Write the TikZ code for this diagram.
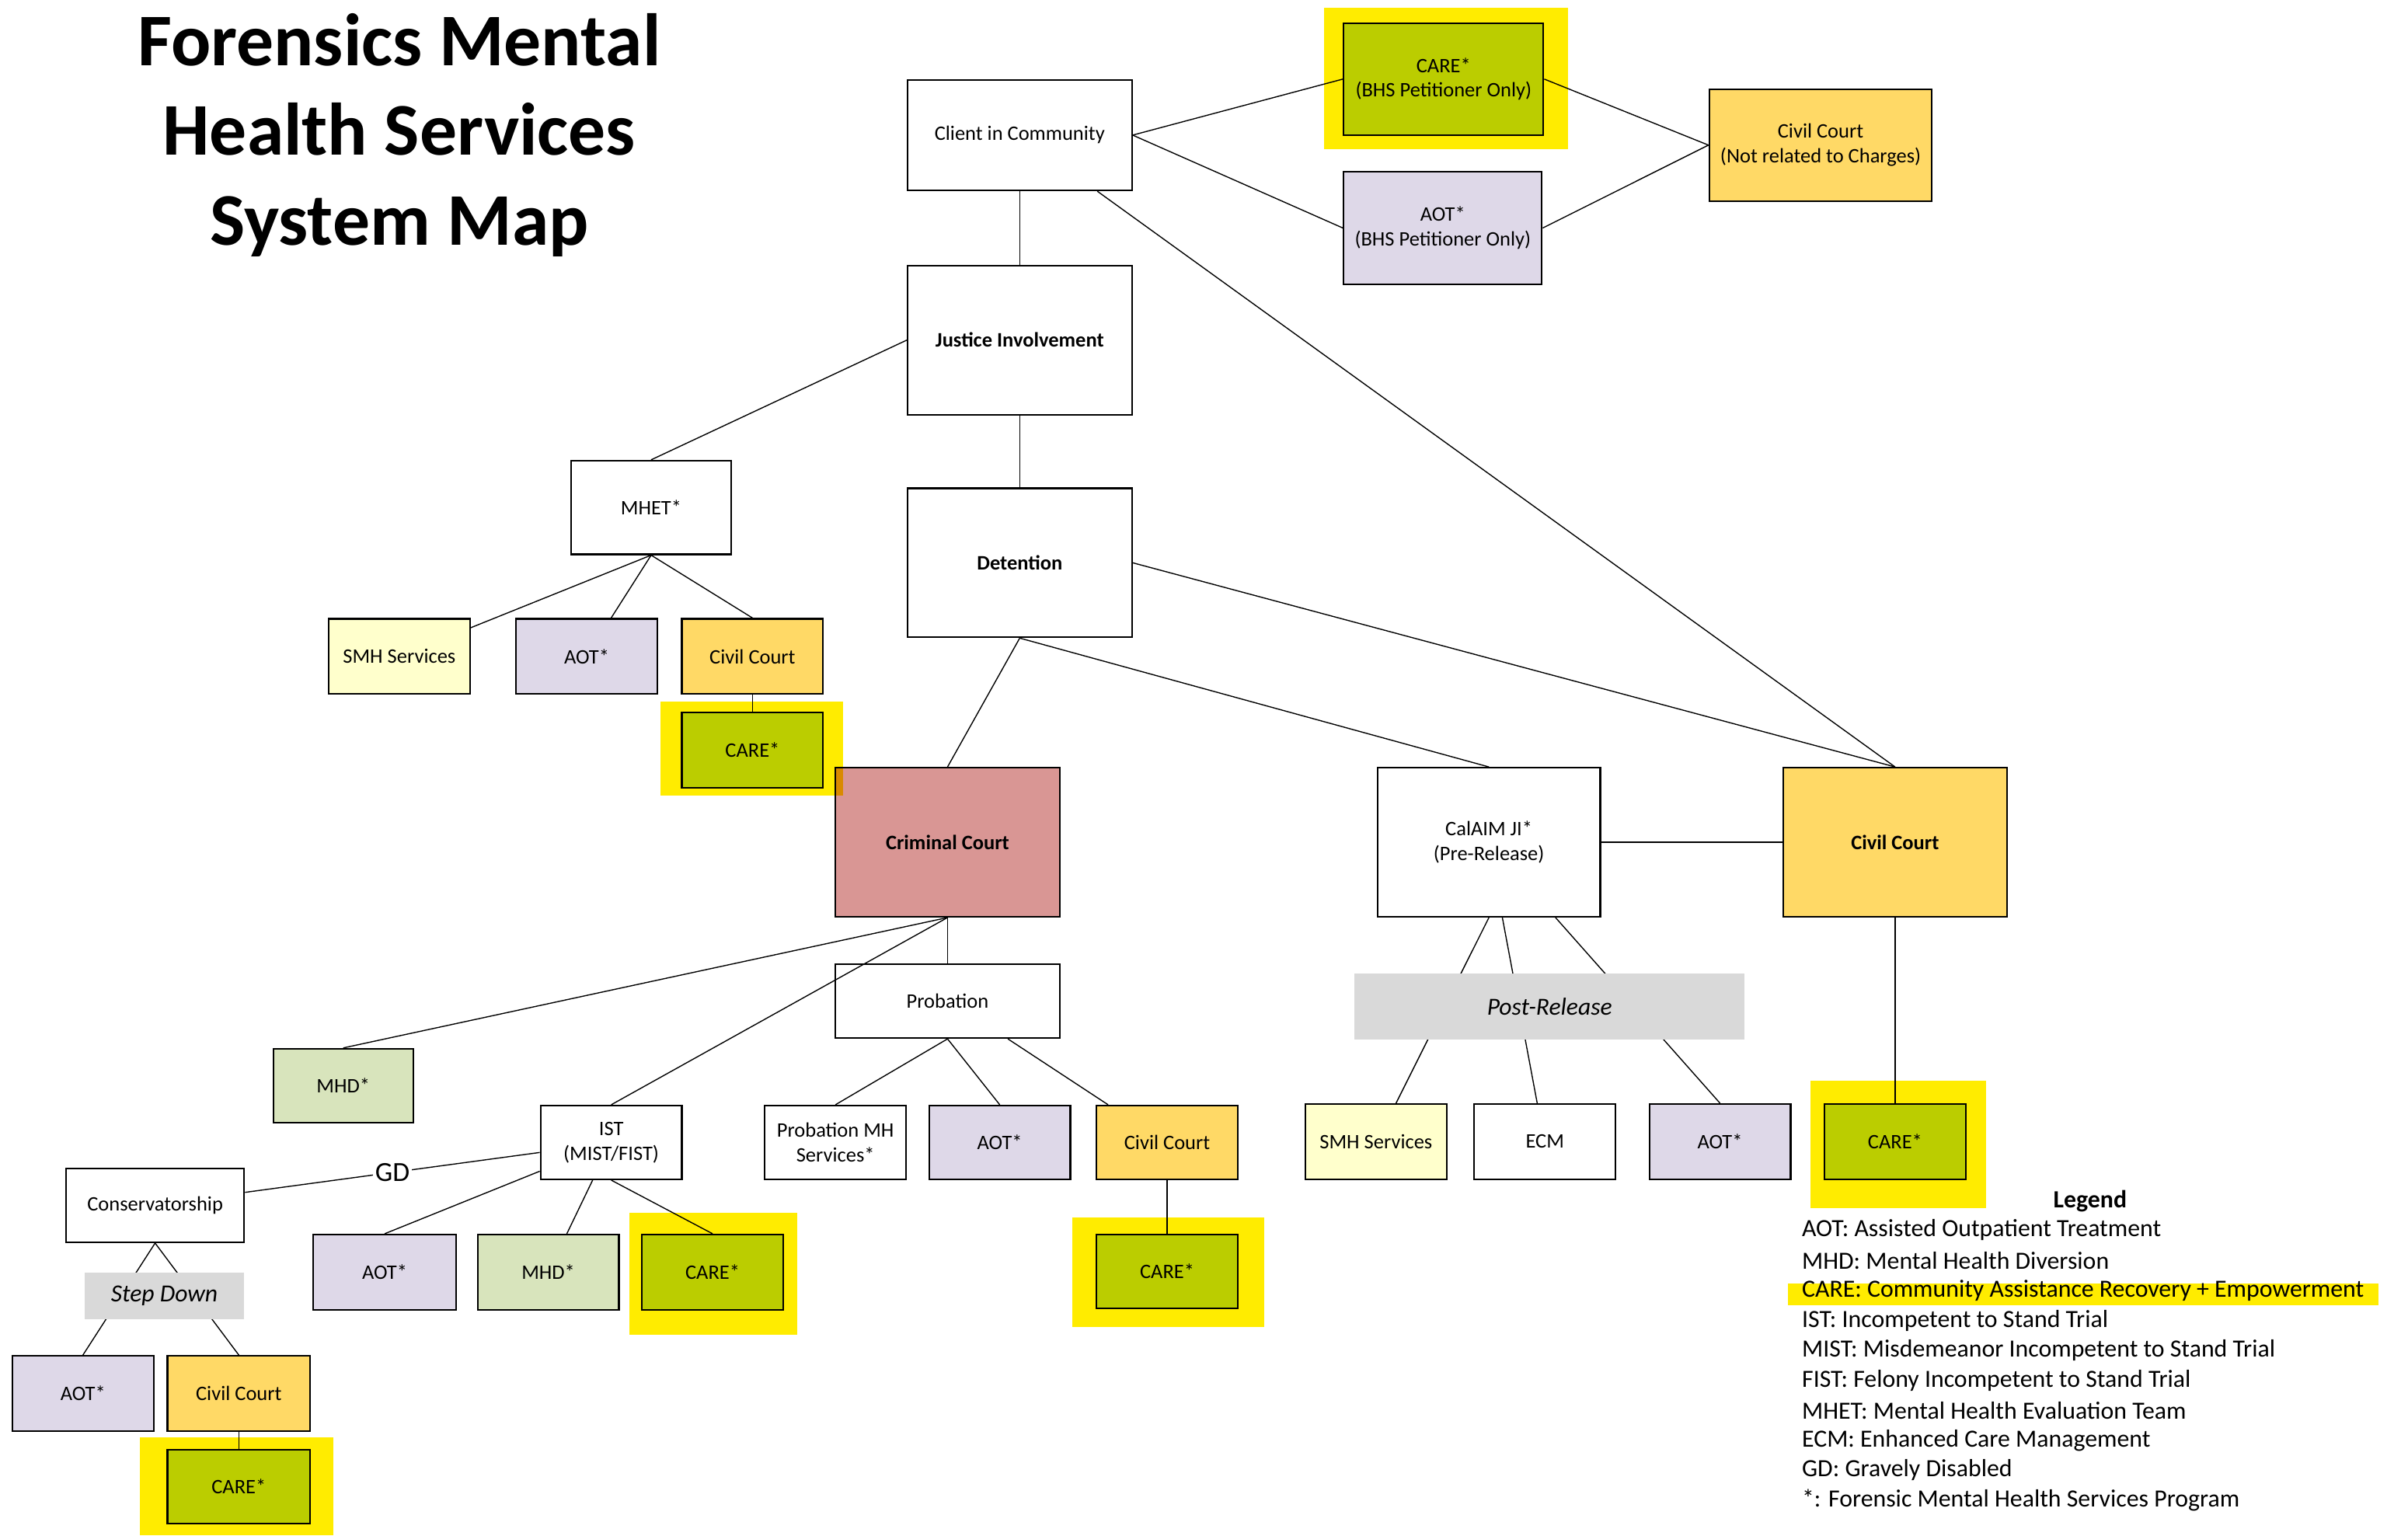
\documentclass[tikz,border=0pt]{standalone}
\usepackage{fontspec}
\setmainfont{Carlito}
\usetikzlibrary{calc}
\definecolor{hlyel}{RGB}{255,236,0}
\definecolor{caregr}{RGB}{187,205,0}
\definecolor{civcol}{RGB}{255,217,102}
\definecolor{aotcol}{RGB}{222,216,232}
\definecolor{smhcol}{RGB}{255,255,204}
\definecolor{mhdcol}{RGB}{216,228,188}
\definecolor{crimcol}{RGB}{217,150,148}
\definecolor{graycol}{RGB}{217,217,217}
\newcommand\mkbox[7]{%
  \pgfmathsetmacro\BXcx{(#3+#5)/2}%
  \pgfmathsetmacro\BXcy{(#4+#6)/2}%
  \pgfmathsetmacro\BXw{(#5-#3)*0.5}%
  \pgfmathsetmacro\BXh{(#6-#4)*0.5}%
  \node[#2, minimum width=\BXw pt, minimum height=\BXh pt] (#1) at (\BXcx,\BXcy) {#7};}
\begin{document}
\begin{tikzpicture}[x=0.5pt,y=-0.5pt,
  box/.style={draw, line width=0.55pt, inner sep=0pt, align=center, fill=white,
    font=\fontsize{6.7}{8}\selectfont},
  carebox/.style={box, fill=caregr},
  civbox/.style={box, fill=civcol},
  aotbox/.style={box, fill=aotcol},
  smhbox/.style={box, fill=smhcol},
  mhdbox/.style={box, fill=mhdcol},
  crimbox/.style={box, fill=crimcol},
  graybox/.style={inner sep=0pt, fill=graycol, align=center, font=\fontsize{8}{9.6}\selectfont\itshape},
  hl/.style={fill=hlyel},
  ln/.style={draw, line width=0.35pt},
  legline/.style={anchor=west, inner sep=0pt, font=\fontsize{8.05}{9.75}\selectfont}
]
\useasboundingbox (0,0) rectangle (1568,1000);

% title
\node[align=center, inner sep=0pt, font=\fontsize{24.2}{29.3}\selectfont\bfseries] (title) at (260,88)
  {Forensics Mental\\Health Services\\System Map};

% highlights
\fill[hl] (862,5) rectangle (1021,97);
\fill[hl] (430,457) rectangle (549,518);
\fill[hl] (1179,704) rectangle (1293,787);
\fill[hl] (698,793) rectangle (823,864);
\fill[hl] (410,790) rectangle (519,869);
\fill[hl] (91,936) rectangle (217,1000);
\fill[hl] (1164,836) rectangle (1549,850);

% boxes
\mkbox{client}{box}{591}{52}{737}{124}{Client in Community}
\mkbox{care1}{carebox}{875}{15}{1005}{88}{CARE*\\(BHS Petitioner Only)}
\mkbox{aot1}{aotbox}{875}{112}{1004}{185}{AOT*\\(BHS Petitioner Only)}
\mkbox{civ1}{civbox}{1113}{58}{1258}{131}{Civil Court\\(Not related to Charges)}
\mkbox{just}{box}{591}{173}{737}{270}{\bfseries Justice Involvement}
\mkbox{det}{box}{591}{318}{737}{415}{\bfseries Detention}
\mkbox{mhet}{box}{372}{300}{476}{361}{MHET*}
\mkbox{smh1}{smhbox}{214}{403}{306}{452}{SMH Services}
\mkbox{aot2}{aotbox}{336}{403}{428}{452}{AOT*}
\mkbox{civ2}{civbox}{444}{403}{536}{452}{Civil Court}
\mkbox{care2}{carebox}{444}{464}{536}{513}{CARE*}
\mkbox{crim}{crimbox}{544}{500}{690}{597}{\bfseries Criminal Court}
\begin{scope}[blend mode=multiply]
\fill[hl] (544,500) rectangle (549,518);
\end{scope}
\mkbox{calaim}{box}{897}{500}{1042}{597}{CalAIM JI*\\(Pre-Release)}
\mkbox{civbig}{civbox}{1161}{500}{1307}{597}{\bfseries Civil Court}
\mkbox{care3}{carebox}{1188}{719}{1280}{768}{CARE*}
\mkbox{prob}{box}{544}{628}{690}{676}{Probation}
\mkbox{mhd1}{mhdbox}{178}{683}{269}{731}{MHD*}
\mkbox{ist}{box}{352}{720}{444}{768}{IST\\(MIST/FIST)}
\mkbox{pmh}{box}{498}{720}{590}{768}{Probation MH\\Services*}
\mkbox{paot}{aotbox}{605}{720}{697}{768}{AOT*}
\mkbox{pciv}{civbox}{714}{720}{806}{768}{Civil Court}
\mkbox{pcare}{carebox}{714}{804}{806}{852}{CARE*}
\mkbox{smh2}{smhbox}{850}{719}{942}{768}{SMH Services}
\mkbox{ecm}{box}{960}{719}{1052}{768}{ECM}
\mkbox{aot3}{aotbox}{1074}{719}{1166}{768}{AOT*}
\mkbox{cons}{box}{43}{761}{159}{809}{Conservatorship}
\mkbox{aot4}{aotbox}{204}{804}{297}{853}{AOT*}
\mkbox{mhd2}{mhdbox}{311}{804}{403}{853}{MHD*}
\mkbox{care4}{carebox}{418}{804}{510}{853}{CARE*}
\mkbox{aot5}{aotbox}{8}{883}{100}{932}{AOT*}
\mkbox{civ5}{civbox}{109}{883}{202}{932}{Civil Court}
\mkbox{care5}{carebox}{109}{944}{202}{992}{CARE*}

% connectors
\path[ln] (client.east) -- (care1.west);
\path[ln] (client.east) -- (aot1.west);
\path[ln] (care1.east) -- (civ1.west);
\path[ln] (aot1.east) -- (civ1.west);
\path[ln] (client.south) -- (just.north);
\path[ln] (client) -- (civbig.north);
\path[ln] (just.west) -- (mhet.north);
\path[ln] (just.south) -- (det.north);
\path[ln] (mhet.south) -- (smh1);
\path[ln] (mhet.south) -- (aot2);
\path[ln] (mhet.south) -- (civ2.north);
\path[ln] (civ2.south) -- (care2.north);
\path[ln] (det.south) -- (crim.north);
\path[ln] (det.south) -- (calaim.north);
\path[ln] (det.east) -- (civbig.north);
\path[ln] (calaim.east) -- (civbig.west);
\path[ln] (civbig.south) -- (care3.north);
\path[ln] (crim.south) -- (prob.north);
\path[ln] (crim.south) -- (mhd1.north);
\path[ln] (crim.south) -- (ist.north);
\path[ln] (prob.south) -- (pmh.north);
\path[ln] (prob.south) -- (paot.north);
\path[ln] ($(prob.south west)!0.767!(prob.south east)$) -- ($(pciv.north west)!0.087!(pciv.north east)$);
\path[ln] (pciv.south) -- (pcare.north);
\path[ln] (calaim.south) -- ($(smh2.north west)!0.64!(smh2.north east)$);
\path[ln] ($(calaim.south west)!0.56!(calaim.south east)$) -- ($(ecm.north west)!0.446!(ecm.north east)$);
\path[ln] ($(calaim.south west)!0.797!(calaim.south east)$) -- (aot3.north);
\path[ln] ($(ist.north west)!0.633!(ist.south west)$) -- node[fill=white, inner sep=0.6pt, font=\fontsize{9}{10}\selectfont] (gd) {GD} ($(cons.north east)!0.327!(cons.south east)$);
\path[ln] (ist) -- (aot4.north);
\path[ln] ($(ist.south west)!0.37!(ist.south east)$) -- ($(mhd2.north west)!0.63!(mhd2.north east)$);
\path[ln] (ist.south) -- (care4.north);
\path[ln] (cons.south) -- (aot5.north);
\path[ln] (cons.south) -- (civ5.north);
\path[ln] (civ5.south) -- (care5.north);

% gray labels drawn over connectors
\mkbox{post}{graybox}{882}{634}{1136}{677}{Post-Release}
\mkbox{step}{graybox}{55}{829}{159}{859}{Step Down}

% legend
\node[inner sep=0pt, font=\fontsize{8.05}{9.75}\selectfont\bfseries] (leghead) at (1361,782) {Legend};
\node[legline] (l1) at (1173,801) {AOT: Assisted Outpatient Treatment};
\node[legline] (l2) at (1173,821) {MHD: Mental Health Diversion};
\node[legline] (l3) at (1173,840.5) {CARE: Community Assistance Recovery + Empowerment};
\node[legline] (l4) at (1173,860) {IST: Incompetent to Stand Trial};
\node[legline] (l5) at (1173,879.5) {MIST: Misdemeanor Incompetent to Stand Trial};
\node[legline] (l6) at (1173,899) {FIST: Felony Incompetent to Stand Trial};
\node[legline] (l7) at (1173,918.5) {MHET: Mental Health Evaluation Team};
\node[legline] (l8) at (1173,938) {ECM: Enhanced Care Management};
\node[legline] (l9) at (1173,957.5) {GD: Gravely Disabled};
\node[legline] (l10) at (1173,977) {*: Forensic Mental Health Services Program};
\end{tikzpicture}
\end{document}
